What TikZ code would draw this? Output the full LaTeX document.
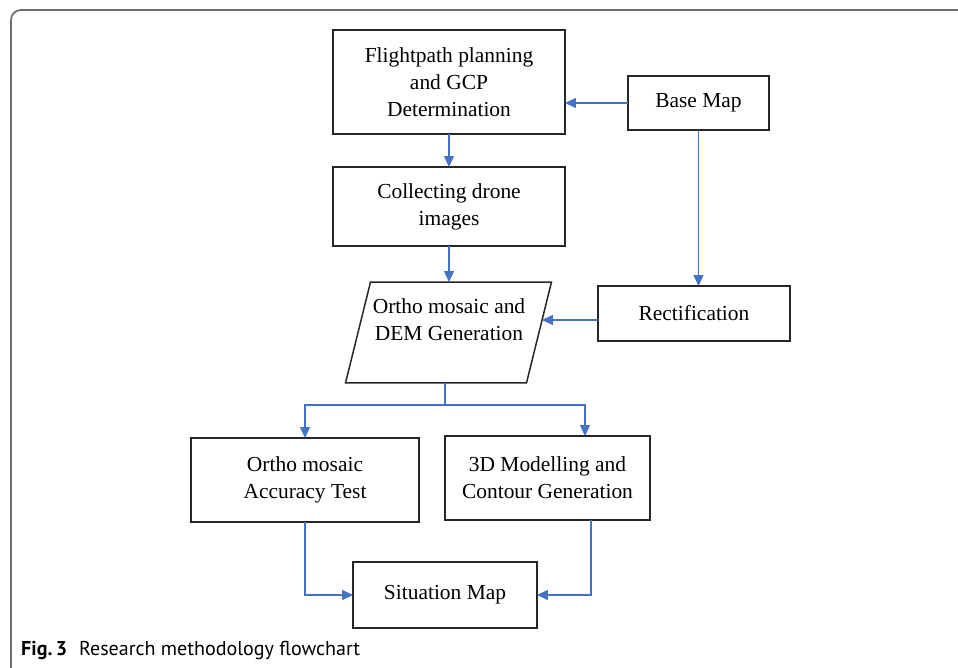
\documentclass[tikz,border=0pt]{standalone}
\usepackage{fontspec}
\setmainfont{Liberation Serif}
\newfontfamily\capfont{PT Sans}
\usetikzlibrary{arrows.meta}
\definecolor{flowblue}{RGB}{68,114,196}
\definecolor{framegray}{RGB}{110,110,110}

\begin{document}
\begin{tikzpicture}[x=0.02cm,y=-0.02cm,
    box/.style={draw=black!85,line width=0.85pt,inner sep=0pt,outer sep=0pt,align=center,
        font=\fontsize{12.2}{15.4}\selectfont},
    flow/.style={draw=flowblue,line width=0.85pt,-{Triangle[length=0.22cm,width=0.2cm]}},
    link/.style={draw=flowblue,line width=0.85pt}]
    \useasboundingbox (0,0) rectangle (958,668);
    \draw[framegray,line width=1pt,rounded corners=0.2cm] (11,668) -- (11,10) -- (958,10);

    \node[box,minimum width=4.64cm,minimum height=2.08cm] (flight) at (449,82) {Flightpath planning\\and GCP\\Determination};
    \node[box,minimum width=2.82cm,minimum height=1.08cm] (base) at (698.5,103) {Base Map};
    \node[box,minimum width=4.64cm,minimum height=1.58cm] (collect) at (449,206.5) {Collecting drone\\images};
    \node[box,draw=none,minimum width=3.62cm,minimum height=2.02cm] (dem) at (448.5,332.5) {};
    \node[box,draw=none] (demtxt) at (449,320) {Ortho mosaic and\\DEM Generation};
    \draw[black!85,line width=0.85pt] ([xshift=0.25cm]dem.north west) -- ([xshift=0.25cm]dem.north east)
        -- ([xshift=-0.25cm]dem.south east) -- ([xshift=-0.25cm]dem.south west) -- cycle;
    \node[box,minimum width=3.84cm,minimum height=1.10cm] (rect) at (694,313.5) {Rectification};
    \node[box,minimum width=4.56cm,minimum height=1.68cm] (acc) at (305,480) {Ortho mosaic\\Accuracy Test};
    \node[box,minimum width=4.10cm,minimum height=1.68cm] (model) at (547.5,478) {3D Modelling and\\Contour Generation};
    \node[box,minimum width=3.68cm,minimum height=1.32cm] (sit) at (445,595) {Situation Map};
    \coordinate (split) at (445,405);

    \draw[flow] (base.west) -- (base.west -| flight.east);
    \draw[flow] (flight.south) -- (collect.north);
    \draw[flow] (collect.south) -- (collect.south |- dem.north);
    \draw[flow] (base.south) -- (base.south |- rect.north);
    \draw[flow] (rect.west |- demtxt) -- ([xshift=0.06cm]dem.east |- demtxt);
    \draw[link] (split |- dem.south) -- (split);
    \draw[flow] (split) -| (acc.north);
    \draw[flow] (split) -| ([xshift=0.75cm]model.north);
    \draw[flow] (acc.south) |- (sit.west);
    \draw[flow] ([xshift=0.87cm]model.south) |- (sit.east);

    \node[anchor=base west,font=\capfont\fontsize{11.4}{13}\selectfont] (caption) at (15,656)
        {\textbf{Fig.\,3}\hspace{0.6em}Research methodology flowchart};
\end{tikzpicture}
\end{document}
